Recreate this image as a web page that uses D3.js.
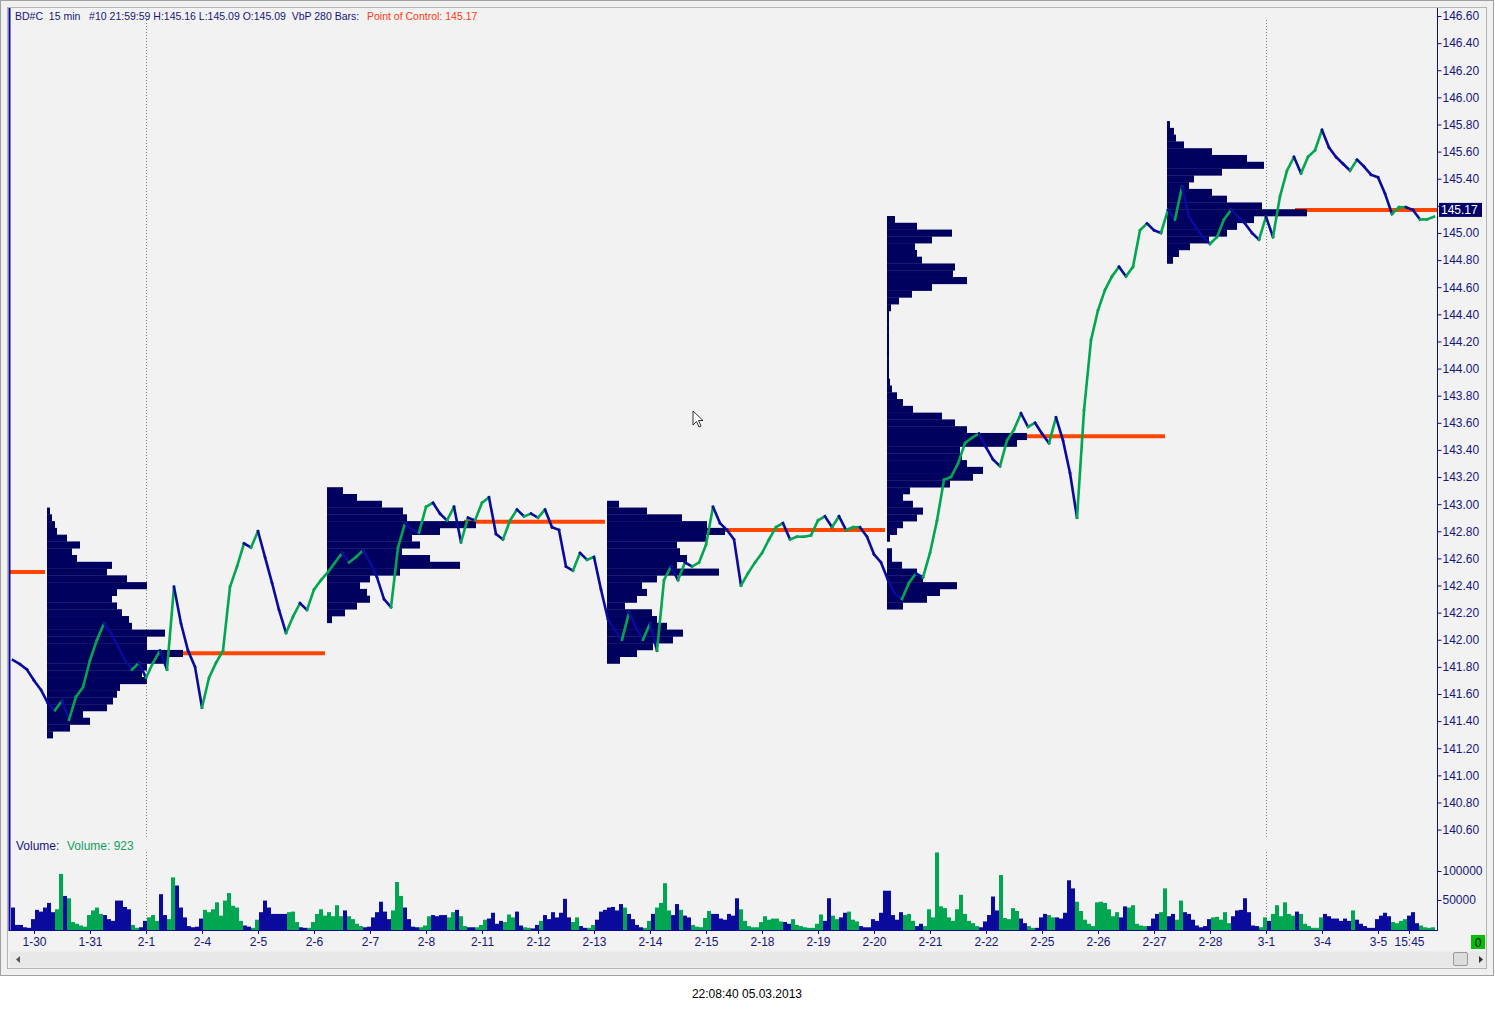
<!DOCTYPE html>
<html><head><meta charset="utf-8">
<script src="https://cdn.jsdelivr.net/npm/d3@7"></script>
<style>
body{margin:0;background:#fff;}
svg{display:block;font-family:"Liberation Sans",Arial,sans-serif;}
</style>
</head><body>
<svg id="c" width="1495" height="1011"></svg>
<script>
// ---------------- data ----------------
const dayLabels = ["1-30","1-31","2-1","2-4","2-5","2-6","2-7","2-8","2-11","2-12","2-13","2-14","2-15","2-18","2-19","2-20","2-21","2-22","2-25","2-26","2-27","2-28","3-1","3-4","3-5"];
const barsPerDay = 56;           // 15-min bars 08:00-22:00
const lastLabel = "15:45";
const lastLabelBar = 31;         // bars after last day start
const monthStarts = ["2-1","3-1"];

const priceTicks = [140.6,140.8,141.0,141.2,141.4,141.6,141.8,142.0,142.2,142.4,142.6,142.8,143.0,143.2,143.4,143.6,143.8,144.0,144.2,144.4,144.6,144.8,145.0,145.2,145.4,145.6,145.8,146.0,146.2,146.4,146.6];
const volumeTicks = [50000, 100000];

// close prices, one every 7 bars starting 21 bars before 1-30 08:00
const priceStart = -21, priceStep = 7;
const closes = [
141.85,141.82,141.78,141.70,141.63,141.53,141.48,141.55,141.41,141.58,
141.65,141.85,142.00,142.12,142.05,141.95,141.85,141.78,141.83,141.72,
141.83,141.92,141.78,142.39,142.12,141.92,141.80,141.50,141.72,141.83,
141.92,142.39,142.54,142.71,142.68,142.80,142.61,142.42,142.22,142.05,
142.17,142.27,142.22,142.37,142.44,142.50,142.57,142.64,142.57,142.61,
142.66,142.57,142.46,142.30,142.24,142.68,142.86,142.81,142.79,142.98,
143.01,142.93,142.88,142.98,142.72,142.90,142.88,143.01,143.05,142.78,
142.74,142.88,142.96,142.91,142.93,142.90,142.96,142.83,142.81,142.54,
142.51,142.64,142.59,142.61,142.37,142.15,142.07,142.00,142.20,142.09,
142.00,142.12,141.92,142.44,142.54,142.44,142.57,142.54,142.57,142.70,
142.98,142.86,142.81,142.74,142.40,142.49,142.57,142.64,142.74,142.83,
142.86,142.74,142.76,142.76,142.77,142.88,142.91,142.83,142.91,142.81,
142.83,142.83,142.76,142.63,142.57,142.44,142.34,142.30,142.42,142.49,
142.46,142.64,142.88,143.18,143.20,143.30,143.45,143.49,143.52,143.42,
143.33,143.28,143.47,143.55,143.67,143.57,143.60,143.52,143.45,143.64,
143.47,143.23,142.90,143.69,144.21,144.43,144.58,144.68,144.75,144.68,
144.75,145.02,145.07,145.02,145.00,145.17,145.10,145.34,145.12,145.04,
144.97,144.92,144.97,145.10,145.17,145.12,145.07,145.00,144.95,145.12,
144.97,145.27,145.46,145.56,145.44,145.56,145.61,145.76,145.63,145.56,
145.51,145.46,145.54,145.49,145.43,145.41,145.29,145.14,145.19,145.19,
145.17,145.10,145.10,145.12];

// volume (thousands), one bar every 4 bars starting 21 bars before 1-30 08:00
const volStart = -21, volStep = 4;
const volumeThousands = [
37,7,7,3,2,17,33,30,37,45,29,34,95,57,53,
12,9,6,4,24,32,37,26,24,17,14,49,49,38,34,
7,2,3,14,20,24,14,60,24,17,89,75,37,20,5,
3,4,18,33,29,34,46,23,49,62,40,37,14,6,4,
2,16,29,49,37,26,26,26,26,29,30,12,3,2,2,
12,26,34,23,29,22,41,22,32,22,17,9,5,3,4,
20,29,47,30,17,32,81,57,37,17,4,3,3,6,22,
24,22,24,24,20,29,33,22,5,3,3,3,7,16,18,
28,9,14,12,25,20,30,6,3,2,1,7,14,24,17,
29,20,28,52,20,12,20,5,2,2,7,16,30,33,37,
38,32,43,37,26,17,7,3,2,14,26,37,45,79,32,
24,43,33,23,20,7,4,3,19,31,26,26,18,16,26,
23,53,34,14,5,3,3,12,22,16,18,18,13,12,9,
17,7,5,3,2,2,9,25,14,53,23,17,20,28,30,
16,13,5,3,3,17,14,28,66,66,24,16,29,24,26,
14,5,9,5,34,20,132,39,36,20,14,34,59,26,14,
10,5,3,13,24,56,32,93,19,17,36,31,18,10,5,
2,2,20,26,24,20,20,18,28,84,70,47,31,16,9,
5,46,47,45,34,22,29,20,39,37,41,9,6,5,5,
18,26,29,70,22,26,16,49,29,26,16,6,3,5,17,
20,21,16,29,10,22,32,33,53,29,6,5,3,20,14,
26,41,22,46,26,23,30,26,9,5,2,2,20,26,22,
18,18,14,18,14,32,16,9,5,2,2,17,23,28,22,
12,10,14,17,23,29,10,6,3,2,3];

// volume-by-price profiles (280 bars each), levels every 0.05 from the top price down
const profileStartBars = [13, 293, 573, 853, 1133];
const profileTopPrices = [142.95, 143.10, 143.00, 145.10, 145.80];
const profileStep = 0.05;
const profile1 = [3,5,8,10,20,33,25,30,65,60,80,100,70,65,70,75,82,85,118,100,100,136,120,100,95,100,73,70,66,60,36,43,23,6];
const profile2 = [16,30,55,76,80,149,113,85,93,75,103,133,73,43,33,40,43,30,18,5];
const profile3 = [12,40,75,100,118,99,70,73,80,70,112,50,35,40,30,18,45,50,60,76,66,46,30,13];
const profile4 = [8,30,65,45,28,30,35,68,66,80,45,25,12,4,2,2,2,2,2,2,2,2,2,2,3,5,10,16,26,55,68,80,140,130,73,75,80,96,86,63,23,16,26,36,30,16,10,3,0,5,5,15,30,36,70,53,40,16];
const profile5 = [3,7,9,17,45,80,97,55,27,22,45,60,95,140,87,70,60,42,23,12,6];
const profiles = [profile1, profile2, profile3, profile4, profile5];
const pocPrices = [141.90, 142.87, 142.81, 143.50, 145.17];
const previousPoc = 142.50;
const lastPrice = 145.17;

// ---------------- drawing ----------------
const NAVY = "#0a0a9c", PROF = "#00005e", GREEN = "#00a650", ORANGE = "#ff4500", TXT = "#16167a";
const FONT = '"Liberation Sans",Arial,sans-serif';
const svg = d3.select("#c");

const x = d3.scaleLinear().domain([0, 1400]).range([34, 1434]);
const y = d3.scaleLinear().domain([140.6, 146.6]).range([829.6, 16]);
const yv = d3.scaleLinear().domain([0, 100000]).range([929, 871]);
const wv = d3.scaleLinear().domain([0, 100]).range([0, x(100) - x(0)]);

const L = 10, R = 1437;

// frame
svg.append("rect").attr("x",0.5).attr("y",0.5).attr("width",1493).attr("height",975).attr("fill","#f0f0f0").attr("stroke","#a0a0a0");
svg.append("rect").attr("x",7.5).attr("y",7.5).attr("width",1479).attr("height",961).attr("fill","#f2f2f2").attr("stroke","#b4b4b4");

const defs = svg.append("defs");
defs.append("clipPath").attr("id","cp").append("rect").attr("x",L).attr("y",8).attr("width",R-L).attr("height",830);
defs.append("clipPath").attr("id","cv").append("rect").attr("x",L).attr("y",852).attr("width",R-L).attr("height",78);

// month separators
monthStarts.forEach(m => {
  const xi = x(dayLabels.indexOf(m) * barsPerDay) + 0.5;
  [[20,838],[852,930]].forEach(([a,b]) => svg.append("line").attr("x1",xi).attr("x2",xi).attr("y1",a).attr("y2",b)
    .attr("stroke","#888").attr("stroke-dasharray","1,2"));
});

const gp = svg.append("g").attr("clip-path","url(#cp)");

// POC lines
gp.append("line").attr("x1",L).attr("x2",x(profileStartBars[0]) - 2).attr("y1",y(previousPoc)).attr("y2",y(previousPoc))
  .attr("stroke",ORANGE).attr("stroke-width",4);
profiles.forEach((pr, j) => {
  const x0 = x(profileStartBars[j]) + wv(d3.max(pr)) - 12;
  const x1 = j < profiles.length - 1 ? x(profileStartBars[j+1]) - 2 : R;
  gp.append("line").attr("x1",x0).attr("x2",x1).attr("y1",y(pocPrices[j])).attr("y2",y(pocPrices[j]))
    .attr("stroke",ORANGE).attr("stroke-width",4);
});

// profiles
profiles.forEach((pr, j) => {
  const x0 = x(profileStartBars[j]);
  gp.append("g").selectAll("rect").data(pr).join("rect")
    .attr("x", x0)
    .attr("y", (d,i) => y(profileTopPrices[j] - i*profileStep + profileStep/2))
    .attr("width", d => Math.max(wv(d), d > 0 ? 2 : 0))
    .attr("height", (d,i) => y(profileTopPrices[j] - i*profileStep - profileStep/2) - y(profileTopPrices[j] - i*profileStep + profileStep/2) + 0.3)
    .attr("fill", PROF);
});

// price
const pts = closes.map((c,i) => ({t: priceStart + i*priceStep, c}));
const segs = pts.slice(1).map((p,i) => ({a: pts[i], b: p, up: p.c >= pts[i].c}));
gp.append("g").selectAll("line").data(segs).join("line")
  .attr("x1", d => x(d.a.t)).attr("y1", d => y(d.a.c))
  .attr("x2", d => x(d.b.t)).attr("y2", d => y(d.b.c))
  .attr("stroke", d => d.up ? GREEN : NAVY).attr("stroke-width", 2.6).attr("stroke-linecap","square");

// volume
function upAt(t) {
  let k = Math.floor((t - priceStart) / priceStep) + 1;
  k = Math.max(1, Math.min(closes.length - 1, k));
  return closes[k] >= closes[k-1];
}
const vols = volumeThousands.map((v,i) => ({t: volStart + i*volStep, v: v*1000}));
svg.append("g").attr("clip-path","url(#cv)").selectAll("rect").data(vols).join("rect")
  .attr("x", d => x(d.t) - 2).attr("width", x(volStep) - x(0))
  .attr("y", d => yv(d.v)).attr("height", d => yv(0) - yv(d.v) + 1)
  .attr("fill", d => upAt(d.t) ? GREEN : NAVY);

// axes lines
svg.append("line").attr("x1",L-0.5).attr("x2",L-0.5).attr("y1",8).attr("y2",931).attr("stroke",NAVY).attr("stroke-width",2);
svg.append("line").attr("x1",R+0.5).attr("x2",R+0.5).attr("y1",8).attr("y2",931).attr("stroke",NAVY);
svg.append("line").attr("x1",L).attr("x2",R+1).attr("y1",930.5).attr("y2",930.5).attr("stroke",NAVY);

function styleAxis(g) {
  g.select(".domain").remove();
  g.selectAll(".tick line").attr("stroke", NAVY);
  g.selectAll(".tick text").attr("fill", TXT).style("font-size","12px").style("font-family",FONT);
}
// price labels hidden where the last-price box sits
svg.append("g").attr("transform",`translate(${R+0.5},0)`)
  .call(d3.axisRight(y).tickValues(priceTicks).tickSize(4).tickPadding(1)
    .tickFormat(d => Math.abs(d - lastPrice) < 0.1 ? "" : d3.format(".2f")(d)))
  .call(styleAxis);
svg.append("g").attr("transform",`translate(${R+0.5},0)`)
  .call(d3.axisRight(yv).tickValues(volumeTicks).tickFormat(d3.format("d")).tickSize(4).tickPadding(1))
  .call(styleAxis);

const xTicks = dayLabels.map((d,i) => i*barsPerDay).concat([(dayLabels.length-1)*barsPerDay + lastLabelBar]);
const xLabels = dayLabels.concat([lastLabel]);
svg.append("g").attr("transform","translate(0,930)")
  .call(d3.axisBottom(x).tickValues(xTicks).tickFormat((d,i) => xLabels[i]).tickSize(4).tickPadding(3))
  .call(styleAxis);

// last price box
svg.append("rect").attr("x",R+2).attr("y",y(lastPrice)-7).attr("width",43).attr("height",14).attr("fill","#000066");
svg.append("text").attr("x",R+4).attr("y",y(lastPrice)+4.5).attr("fill","#fff").style("font-size","12px").text(d3.format(".2f")(lastPrice));

// header texts
svg.append("text").attr("x",15).attr("y",19.5).attr("fill",TXT).style("font-size","10.5px").style("white-space","pre")
  .text("BD#C  15 min   #10 21:59:59 H:145.16 L:145.09 O:145.09  VbP 280 Bars:");
svg.append("text").attr("x",367).attr("y",19.5).attr("fill","#ff3a10").style("font-size","10.5px")
  .text("Point of Control: " + d3.format(".2f")(lastPrice));
svg.append("text").attr("x",16).attr("y",850).attr("fill",TXT).style("font-size","12px").text("Volume:");
svg.append("text").attr("x",67).attr("y",850).attr("fill","#10a060").style("font-size","12px").text("Volume: 923");

// green 0 box
svg.append("rect").attr("x",1471).attr("y",935).attr("width",14).attr("height",14).attr("fill","#00c000");
svg.append("text").attr("x",1478).attr("y",946.5).attr("text-anchor","middle").attr("fill","#000").style("font-size","12px").text("0");

// scrollbar
svg.append("rect").attr("x",10).attr("y",951.5).attr("width",1476).attr("height",16).attr("fill","#e8e8e8");
svg.append("path").attr("d","M16,959.5 L20,956 L20,963 Z").attr("fill","#555");
svg.append("path").attr("d","M1479,956 L1483,959.5 L1479,963 Z").attr("fill","#333");
svg.append("rect").attr("x",1453.5).attr("y",952.5).attr("width",14).attr("height",13).attr("rx",1.5)
  .attr("fill","#dcdcdc").attr("stroke","#9a9a9a");

// mouse cursor
svg.append("path").attr("transform","translate(693,411)")
  .attr("d","M0,0 L0,14 L3.5,10.5 L6,16 L8,15 L5.5,9.5 L10,9.5 Z")
  .attr("fill","#fff").attr("stroke","#000").attr("stroke-width",0.8);

// footer time
svg.append("text").attr("x",747).attr("y",998).attr("text-anchor","middle").attr("fill","#000").style("font-size","12px").text("22:08:40 05.03.2013");
</script>
</body></html>
